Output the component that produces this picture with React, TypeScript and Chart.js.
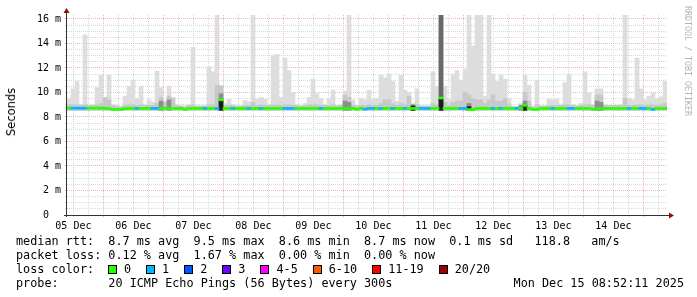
import React, { useEffect, useRef } from 'react';
import { Chart, registerables } from 'chart.js';

Chart.register(...registerables);

// ---------- data ----------
const dayLabels = ['05 Dec', '06 Dec', '07 Dec', '08 Dec', '09 Dec', '10 Dec', '11 Dec', '12 Dec', '13 Dec', '14 Dec'];

// graph window: hours counted from 05 Dec 00:00
const START_HOUR = 9.45;
const SPAN_HOURS = 240;
const STEP_HOURS = 1.6; // one sample column
const Y_MAX_MS = 16.3265;
const SMOKE_FLOOR = 8.55;

// top of the light smoke (max ping), ms
const smokeMax = [
  9.5, 10.3, 10.9, 9.0, 14.7, 8.95, 9.0, 10.4, 11.4, 9.6,
  11.4, 9.0, 8.9, 8.85, 9.7, 10.5, 11.0, 9.5, 10.5, 9.0,
  9.4, 9.2, 11.76, 10.4, 9.3, 10.5, 9.6, 9.0, 8.9, 8.9,
  9.0, 13.7, 8.9, 8.9, 8.9, 12.1, 11.7, 16.4, 10.6, 9.1,
  9.45, 9.0, 8.9, 8.9, 9.35, 9.25, 16.4, 9.45, 9.6, 9.45,
  9.0, 13.0, 13.1, 9.6, 12.8, 11.8, 10.0, 9.0, 8.9, 9.1,
  9.6, 11.1, 9.9, 9.5, 9.0, 9.45, 10.2, 8.95, 9.0, 10.1,
  16.4, 9.4, 8.95, 9.5, 9.4, 10.2, 9.45, 9.5, 11.4, 11.2,
  11.5, 10.9, 9.3, 11.4, 10.2, 10.0, 9.1, 10.3, 8.9, 8.9,
  8.9, 11.7, 10.5, 16.4, 10.5, 9.4, 11.5, 11.8, 11.0, 11.9,
  16.4, 13.8, 16.4, 16.4, 9.7, 16.4, 11.5, 10.9, 11.4, 11.1,
  9.5, 8.85, 8.85, 9.1, 11.4, 10.6, 8.85, 11.0, 8.9, 8.9,
  9.45, 9.4, 9.45, 9.0, 10.8, 11.5, 9.0, 8.9, 9.1, 11.7,
  9.95, 9.0, 10.3, 10.3, 9.0, 8.95, 8.95, 8.95, 9.0, 16.4,
  9.5, 9.4, 12.8, 10.3, 9.4, 9.7, 9.95, 9.5, 9.65, 10.9,
];

// top of the medium smoke band, ms
const smokeUpper = [
  9.0, 9.0, 9.0, 8.95, 9.0, 8.95, 8.95, 9.0, 9.1, 9.6,
  9.4, 8.95, 8.9, 8.85, 8.95, 9.0, 9.0, 8.95, 9.0, 8.95,
  8.95, 8.95, 9.1, 9.6, 9.2, 9.7, 9.5, 8.95, 8.9, 8.85,
  8.95, 9.0, 8.9, 8.9, 8.9, 9.0, 9.0, 10.6, 10.5, 8.95,
  8.95, 8.95, 8.9, 8.9, 8.95, 8.95, 9.2, 8.95, 9.0, 8.95,
  8.95, 9.0, 9.0, 8.95, 9.0, 9.0, 8.95, 8.95, 8.9, 8.95,
  9.0, 9.0, 9.0, 8.95, 8.95, 8.95, 9.0, 8.9, 8.95, 9.8,
  9.6, 8.95, 8.9, 8.95, 8.95, 9.0, 8.95, 8.95, 9.1, 9.4,
  9.4, 9.1, 8.95, 9.1, 9.0, 9.7, 9.0, 9.0, 8.9, 8.9,
  8.9, 9.1, 9.0, 16.4, 9.2, 8.95, 9.2, 9.3, 9.3, 10.0,
  9.8, 9.5, 9.4, 9.4, 9.1, 9.4, 9.8, 9.3, 9.3, 9.5,
  9.0, 8.85, 8.85, 9.0, 10.0, 9.3, 8.85, 9.0, 8.9, 8.9,
  8.95, 8.95, 8.95, 8.95, 9.0, 9.0, 8.95, 8.9, 8.95, 9.0,
  9.0, 8.95, 9.8, 9.8, 8.95, 8.95, 8.95, 8.95, 8.95, 9.5,
  8.95, 8.95, 9.0, 9.0, 8.95, 9.0, 9.0, 8.95, 9.0, 9.1,
];

// dark smoke (many pings bunched), sparse columns
const darkCols = [23, 25, 38, 69, 70, 86, 93, 100, 113, 114, 132, 133];
const darkTops = [9.3, 9.4, 9.9, 9.3, 9.2, 9.0, 16.4, 9.1, 8.95, 9.3, 9.3, 9.2];
// near-black core under the median jumps
const coreCols = [38, 86, 93, 100, 114];
const coreTops = [9.35, 8.9, 9.5, 8.85, 8.95];

// median rtt per column, ms
const median = [
  8.72, 8.72, 8.72, 8.72, 8.72, 8.72, 8.72, 8.72, 8.72, 8.72,
  8.68, 8.62, 8.62, 8.62, 8.68, 8.7, 8.7, 8.7, 8.7, 8.7,
  8.7, 8.7, 8.7, 8.7, 8.7, 8.7, 8.7, 8.7, 8.7, 8.62,
  8.7, 8.7, 8.7, 8.7, 8.7, 8.7, 8.7, 8.7, 9.4, 8.7,
  8.7, 8.7, 8.7, 8.7, 8.7, 8.7, 8.7, 8.7, 8.7, 8.7,
  8.7, 8.7, 8.7, 8.7, 8.7, 8.7, 8.7, 8.7, 8.7, 8.7,
  8.7, 8.7, 8.7, 8.7, 8.7, 8.7, 8.7, 8.7, 8.7, 8.7,
  8.7, 8.7, 8.64, 8.7, 8.64, 8.7, 8.7, 8.7, 8.7, 8.7,
  8.7, 8.7, 8.7, 8.7, 8.7, 8.7, 8.7, 8.7, 8.7, 8.7,
  8.7, 8.7, 8.7, 9.55, 8.7, 8.7, 8.7, 8.7, 8.7, 8.7,
  8.6, 8.6, 8.7, 8.7, 8.7, 8.7, 8.7, 8.7, 8.7, 8.7,
  8.7, 8.7, 8.7, 8.7, 8.95, 8.7, 8.62, 8.62, 8.7, 8.7,
  8.7, 8.7, 8.7, 8.7, 8.7, 8.7, 8.7, 8.7, 8.7, 8.7,
  8.7, 8.62, 8.7, 8.7, 8.7, 8.7, 8.7, 8.7, 8.7, 8.7,
  8.7, 8.7, 8.7, 8.7, 8.7, 8.7, 8.62, 8.7, 8.7, 8.7,
];

// loss class per column (index into lossLabels)
const loss = [
  0, 1, 1, 1, 1, 0, 0, 0, 0, 0,
  0, 0, 0, 0, 0, 0, 0, 1, 0, 0,
  0, 1, 1, 0, 0, 0, 0, 0, 0, 0,
  0, 0, 0, 0, 1, 0, 0, 1, 0, 0,
  0, 1, 0, 0, 0, 1, 0, 0, 1, 0,
  0, 0, 0, 0, 1, 1, 1, 0, 0, 0,
  0, 0, 0, 1, 0, 0, 0, 0, 0, 0,
  0, 0, 0, 0, 1, 1, 1, 0, 1, 0,
  0, 1, 0, 0, 1, 0, 0, 0, 1, 1,
  1, 0, 0, 0, 0, 0, 0, 0, 1, 1,
  0, 0, 0, 0, 0, 0, 1, 0, 1, 0,
  0, 0, 1, 0, 0, 0, 0, 0, 0, 0,
  0, 1, 0, 0, 0, 1, 1, 0, 0, 0,
  0, 0, 0, 0, 0, 0, 0, 0, 0, 0,
  1, 0, 0, 1, 1, 0, 1, 0, 0, 0,
];

const lossLabels = ['0', '1', '2', '3', '4-5', '6-10', '11-19', '20/20'];
const lossColors = ['#26ff00', '#00b8ff', '#0059ff', '#6a00ff', '#ff00ff', '#ff5a00', '#ff0000', '#a00000'];

const legendRtt = 'median rtt:  8.7 ms avg  9.5 ms max  8.6 ms min  8.7 ms now  0.1 ms sd   118.8   am/s';
const legendLoss = 'packet loss: 0.12 % avg  1.67 % max  0.00 % min  0.00 % now';
const legendLossTitle = 'loss color:';
const legendProbe = 'probe:       20 ICMP Echo Pings (56 Bytes) every 300s';
const legendDate = 'Mon Dec 15 08:52:11 2025';
const watermark = 'RRDTOOL / TOBI OETIKER';
const yTitle = 'Seconds';

// ---------- styling ----------
const MONO = '"DejaVu Sans Mono", "Liberation Mono", monospace';
const SANS = '"DejaVu Sans", sans-serif';
const MAJOR_GRID = '#efb4b4';
const MINOR_GRID = '#d9d9d9';
const AXIS_COLOR = '#333333';
const ARROW_COLOR = '#8b1010';
const LIGHT_SMOKE = '#dddddd';
const MID_SMOKE = '#c8c8c8';
const DARK_SMOKE = '#8f8f8f';
const SATURATED_SMOKE = '#686868';
const CORE_SMOKE = '#1c1c1c';
const LINE_HALF = 0.082;

const colTime = (i: number) => START_HOUR + (i + 0.5) * STEP_HOURS;

const xTickHours: number[] = [];
for (let h = 12; h < START_HOUR + SPAN_HOURS; h += 6) xTickHours.push(h);
const yTickValues: number[] = [];
for (let v = 0; v <= 16; v += 0.5) yTickValues.push(v);

const axesPlugin = {
  id: 'rrdAxes',
  afterDraw(chart: any) {
    const { ctx, chartArea } = chart;
    const { left, right, top, bottom } = chartArea;
    ctx.save();
    ctx.strokeStyle = AXIS_COLOR;
    ctx.lineWidth = 1;
    ctx.beginPath();
    ctx.moveTo(left - 0.5, bottom + 2);
    ctx.lineTo(left - 0.5, top - 3);
    ctx.moveTo(left - 3, bottom + 0.5);
    ctx.lineTo(right + 3, bottom + 0.5);
    ctx.stroke();
    ctx.fillStyle = ARROW_COLOR;
    ctx.beginPath();
    ctx.moveTo(left - 3.5, top - 2);
    ctx.lineTo(left + 2.5, top - 2);
    ctx.lineTo(left - 0.5, top - 7);
    ctx.closePath();
    ctx.fill();
    ctx.beginPath();
    ctx.moveTo(right + 2, bottom - 2.5);
    ctx.lineTo(right + 2, bottom + 3.5);
    ctx.lineTo(right + 7, bottom + 0.5);
    ctx.closePath();
    ctx.fill();
    ctx.restore();
  },
};

export default function App() {
  const canvasRef = useRef<HTMLCanvasElement | null>(null);

  useEffect(() => {
    if (!canvasRef.current) return;
    const sparse = (cols: number[], tops: number[]) =>
      cols.map((c, k) => ({ x: colTime(c), y: [SMOKE_FLOOR, tops[k]] }));

    const chart = new Chart(canvasRef.current, {
      type: 'bar',
      data: {
        datasets: [
          {
            label: 'median',
            data: median.map((m, i) => ({ x: colTime(i), y: [m - LINE_HALF, m + LINE_HALF] })) as any,
            backgroundColor: loss.map((l) => lossColors[l]),
            order: 0,
          },
          { label: 'core', data: sparse(coreCols, coreTops) as any, backgroundColor: CORE_SMOKE, order: 1 },
          {
            label: 'dark',
            data: sparse(darkCols, darkTops) as any,
            backgroundColor: darkTops.map((t) => (t >= Y_MAX_MS ? SATURATED_SMOKE : DARK_SMOKE)),
            order: 2,
          },
          {
            label: 'upper',
            data: smokeUpper.map((v, i) => ({ x: colTime(i), y: [SMOKE_FLOOR, v] })) as any,
            backgroundColor: MID_SMOKE,
            order: 3,
          },
          {
            label: 'max',
            data: smokeMax.map((v, i) => ({ x: colTime(i), y: [SMOKE_FLOOR, v] })) as any,
            backgroundColor: LIGHT_SMOKE,
            order: 4,
          },
        ],
      },
      options: {
        responsive: false,
        maintainAspectRatio: false,
        devicePixelRatio: 1,
        animation: false,
        events: [],
        layout: { padding: { top: 15, right: 30, left: 0, bottom: 60 } },
        datasets: {
          bar: {
            grouped: false,
            categoryPercentage: 1,
            barPercentage: 1,
            borderWidth: 0,
          } as any,
        },
        plugins: { legend: { display: false }, tooltip: { enabled: false }, title: { display: false } },
        scales: {
          x: {
            type: 'linear',
            offset: false,
            min: START_HOUR,
            max: START_HOUR + SPAN_HOURS,
            afterBuildTicks: (scale: any) => {
              scale.ticks = xTickHours.map((v) => ({ value: v }));
            },
            afterFit: (scale: any) => {
              scale.height = 22;
            },
            ticks: {
              autoSkip: false,
              maxRotation: 0,
              minRotation: 0,
              padding: 3,
              color: '#000',
              font: { family: MONO, size: 10 },
              callback: (v: any) => {
                const n = Number(v);
                return n % 24 === 12 ? dayLabels[(n - 12) / 24] ?? '' : '';
              },
            },
            grid: {
              offset: false,
              z: 0,
              lineWidth: 1,
              drawTicks: true,
              tickLength: 2,
              color: (c: any) => (c.tick && c.tick.value % 24 === 0 ? MAJOR_GRID : MINOR_GRID),
              tickColor: (c: any) => (c.tick && c.tick.value % 24 === 0 ? MAJOR_GRID : MINOR_GRID),
            },
            border: { display: false, dash: [1, 1] },
          },
          y: {
            type: 'linear',
            min: 0,
            max: Y_MAX_MS,
            afterBuildTicks: (scale: any) => {
              scale.ticks = yTickValues.map((v) => ({ value: v }));
            },
            afterFit: (scale: any) => {
              scale.width = 67;
            },
            ticks: {
              autoSkip: false,
              padding: 4,
              color: '#000',
              font: { family: MONO, size: 10 },
              callback: (v: any) => {
                const n = Number(v);
                if (n % 2 !== 0) return '';
                return n === 0 ? '0  ' : `${n} m`;
              },
            },
            grid: {
              z: 0,
              lineWidth: 1,
              drawTicks: true,
              tickLength: 2,
              color: (c: any) => (c.tick && c.tick.value % 2 === 0 ? MAJOR_GRID : MINOR_GRID),
              tickColor: (c: any) => (c.tick && c.tick.value % 2 === 0 ? MAJOR_GRID : MINOR_GRID),
            },
            border: { display: false, dash: [1, 1] },
          },
        },
      },
      plugins: [axesPlugin],
    });
    return () => chart.destroy();
  }, []);

  const lineStyle = (top: number): React.CSSProperties => ({
    position: 'absolute',
    left: 16,
    top,
    height: 14,
    lineHeight: '14px',
    fontFamily: MONO,
    fontSize: '11.8px',
    whiteSpace: 'pre',
    color: '#000',
  });

  return (
    <div style={{ position: 'fixed', left: 0, top: 0, width: 697, height: 297, background: '#ffffff', overflow: 'hidden' }}>
      <canvas ref={canvasRef} width={697} height={297} style={{ position: 'absolute', left: 0, top: 0, display: 'block' }} />
      <div
        style={{
          position: 'absolute',
          left: 11,
          top: 112,
          transform: 'translate(-50%, -50%) rotate(-90deg)',
          fontFamily: SANS,
          fontSize: '11.5px',
          whiteSpace: 'nowrap',
          color: '#000',
        }}
      >
        {yTitle}
      </div>
      <div
        style={{
          position: 'absolute',
          left: 683,
          top: 6,
          writingMode: 'vertical-rl',
          fontFamily: MONO,
          fontSize: '8.3px',
          color: '#b4b4b4',
          whiteSpace: 'nowrap',
          lineHeight: '9px',
        }}
      >
        {watermark}
      </div>
      <div style={lineStyle(234)}>{legendRtt}</div>
      <div style={lineStyle(248)}>{legendLoss}</div>
      <div style={lineStyle(262)}>{legendLossTitle}</div>
      <div style={{ ...lineStyle(262), left: 108, display: 'flex', alignItems: 'center' }}>
        {lossLabels.map((lab, k) => (
          <React.Fragment key={lab}>
            <span
              style={{
                display: 'inline-block',
                width: 9,
                height: 9,
                boxSizing: 'border-box',
                border: '1px solid #000',
                background: lossColors[k],
                marginRight: 7,
              }}
            />
            <span style={{ marginRight: 15 }}>{lab}</span>
          </React.Fragment>
        ))}
      </div>
      <div style={lineStyle(276)}>{legendProbe}</div>
      <div style={{ ...lineStyle(276), left: 'auto', right: 13 }}>{legendDate}</div>
    </div>
  );
}
